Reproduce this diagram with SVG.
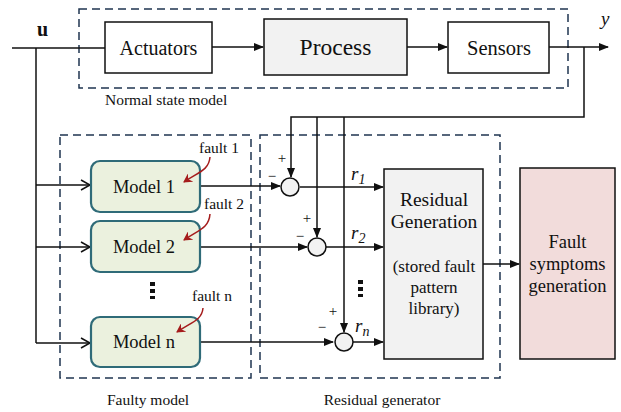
<svg xmlns="http://www.w3.org/2000/svg" width="621" height="412" viewBox="0 0 621 412">
<style>
.t{font-family:'Liberation Serif','DejaVu Serif',serif;fill:#111;}
.box{stroke:#111;stroke-width:1.5;}
.dash{fill:none;stroke:#1f3550;stroke-width:1.5;stroke-dasharray:8 5;}
.ln{fill:none;stroke:#111;stroke-width:1.5;}
.mdl{fill:#ebf1de;stroke:#2f6b78;stroke-width:2.2;}
.flt{fill:none;stroke:#a51c1c;stroke-width:1.5;}
.sum{fill:#f2f2f2;stroke:#111;stroke-width:1.5;}
.lbl{font-size:15.5px;}
</style>
<defs>
<marker id="a" markerWidth="10" markerHeight="8" refX="9" refY="4" orient="auto" markerUnits="userSpaceOnUse"><path d="M0,0 L10,4 L0,8 Z" fill="#111"/></marker>
<marker id="o" markerWidth="12" markerHeight="12" refX="10" refY="6" orient="auto" markerUnits="userSpaceOnUse"><path d="M1,1 L10,6 L1,11" fill="none" stroke="#111" stroke-width="1.5"/></marker>
<marker id="r" markerWidth="10" markerHeight="10" refX="8" refY="5" orient="auto" markerUnits="userSpaceOnUse"><path d="M0,0 L9,5 L0,10 L3,5 Z" fill="#a51c1c"/></marker>
</defs>
<g id="groups">
<rect class="dash" x="79" y="9" width="489" height="79"/>
<rect class="dash" x="60" y="135" width="191" height="243"/>
<rect class="dash" x="260" y="135" width="240" height="243"/>
<text class="t lbl" x="105" y="105">Normal state model</text>
<text class="t lbl" x="148" y="405" text-anchor="middle">Faulty model</text>
<text class="t lbl" x="382" y="405" text-anchor="middle">Residual generator</text>
</g>
<g id="connectors">
<path class="ln" d="M12,48 H105"/>
<path class="ln" d="M36,48 V343"/>
<path class="ln" d="M36,185 H90" marker-end="url(#o)"/>
<path class="ln" d="M36,247 H90" marker-end="url(#o)"/>
<path class="ln" d="M36,343 H90" marker-end="url(#o)"/>
<path class="ln" d="M212,47 H263" marker-end="url(#a)"/>
<path class="ln" d="M407,47 H447" marker-end="url(#a)"/>
<path class="ln" d="M549,47 H608" marker-end="url(#a)"/>
<path class="ln" d="M584,47 V117 H291 V177" marker-end="url(#a)"/>
<path class="ln" d="M317,117 V237" marker-end="url(#a)"/>
<path class="ln" d="M344,117 V332" marker-end="url(#a)"/>
<path class="ln" d="M200,186 H280" marker-end="url(#a)"/>
<path class="ln" d="M200,247 H307" marker-end="url(#a)"/>
<path class="ln" d="M200,342 H333" marker-end="url(#a)"/>
<path class="ln" d="M300,187 H383" marker-end="url(#a)"/>
<path class="ln" d="M326,247 H383" marker-end="url(#a)"/>
<path class="ln" d="M353,342 H383" marker-end="url(#a)"/>
<path class="ln" d="M483,264 H519" marker-end="url(#a)"/>
</g>
<g id="u"><text class="t" x="37" y="36" font-size="20" font-weight="bold">u</text></g>
<g id="y"><text class="t" x="601" y="25" font-size="19" font-style="italic">y</text></g>
<g id="actuators"><rect class="box" x="105" y="22" width="107" height="51" fill="#fff"/><text class="t" x="158.5" y="55" font-size="20" text-anchor="middle">Actuators</text></g>
<g id="process"><rect class="box" x="264" y="19" width="143" height="56" fill="#f2f2f2"/><text class="t" x="335.5" y="55" font-size="23.5" text-anchor="middle">Process</text></g>
<g id="sensors"><rect class="box" x="448" y="22" width="101" height="51" fill="#fff"/><text class="t" x="499" y="55" font-size="20.5" text-anchor="middle">Sensors</text></g>
<g id="model1"><rect class="mdl" x="91" y="161" width="109" height="51" rx="9"/><text class="t" x="144" y="193" font-size="18.5" text-anchor="middle">Model 1</text><text class="t lbl" x="199" y="153">fault 1</text><path class="flt" d="M210,157 C209,170 199,172 184,182" marker-end="url(#r)"/></g>
<g id="model2"><rect class="mdl" x="91" y="221" width="109" height="51" rx="9"/><text class="t" x="144" y="253" font-size="18.5" text-anchor="middle">Model 2</text><text class="t lbl" x="204" y="209">fault 2</text><path class="flt" d="M210,214 C209,228 199,230 184,240" marker-end="url(#r)"/></g>
<g id="dots1"><rect x="150" y="282" width="5" height="4" fill="#111"/><rect x="150" y="289" width="5" height="4" fill="#111"/><rect x="150" y="296" width="5" height="3" fill="#111"/></g>
<g id="modeln"><rect class="mdl" x="91" y="317" width="109" height="50" rx="9"/><text class="t" x="144" y="348" font-size="18.5" text-anchor="middle">Model n</text><text class="t lbl" x="192" y="301">fault n</text><path class="flt" d="M203,308 C202,320 192,322 177,332" marker-end="url(#r)"/></g>
<g id="sum1"><circle class="sum" cx="290" cy="187" r="9"/><text class="t" x="282" y="163" font-size="15" text-anchor="middle">+</text><text class="t" x="272" y="181" font-size="15" text-anchor="middle">−</text></g>
<g id="sum2"><circle class="sum" cx="317" cy="247" r="9"/><text class="t" x="307" y="223" font-size="15" text-anchor="middle">+</text><text class="t" x="300" y="241" font-size="15" text-anchor="middle">−</text></g>
<g id="sumn"><circle class="sum" cx="344" cy="342" r="9"/><text class="t" x="333" y="316" font-size="15" text-anchor="middle">+</text><text class="t" x="322" y="332" font-size="15" text-anchor="middle">−</text></g>
<g id="rlabels">
<text class="t" x="351" y="180" font-size="19" font-style="italic">r<tspan font-size="14" dy="4">1</tspan></text>
<text class="t" x="351" y="239" font-size="19" font-style="italic">r<tspan font-size="14" dy="4">2</tspan></text>
<text class="t" x="355" y="332" font-size="19" font-style="italic">r<tspan font-size="14" dy="4">n</tspan></text>
<rect x="358" y="280" width="5" height="4" fill="#111"/><rect x="358" y="287" width="5" height="4" fill="#111"/><rect x="358" y="294" width="5" height="3" fill="#111"/>
</g>
<g id="residual"><rect class="box" x="384" y="169" width="99" height="190" fill="#f2f2f2"/>
<text class="t" font-size="19.5" text-anchor="middle"><tspan x="434" y="206">Residual</tspan><tspan x="434" y="228">Generation</tspan></text>
<text class="t" font-size="17" text-anchor="middle"><tspan x="434" y="272">(stored fault</tspan><tspan x="434" y="293">pattern</tspan><tspan x="434" y="314">library)</tspan></text></g>
<g id="faultsym"><rect class="box" x="520" y="168" width="95" height="191" fill="#f2dcdb"/>
<text class="t" font-size="18.5" text-anchor="middle"><tspan x="567.5" y="248">Fault</tspan><tspan x="567.5" y="270">symptoms</tspan><tspan x="567.5" y="292">generation</tspan></text></g>
</svg>
